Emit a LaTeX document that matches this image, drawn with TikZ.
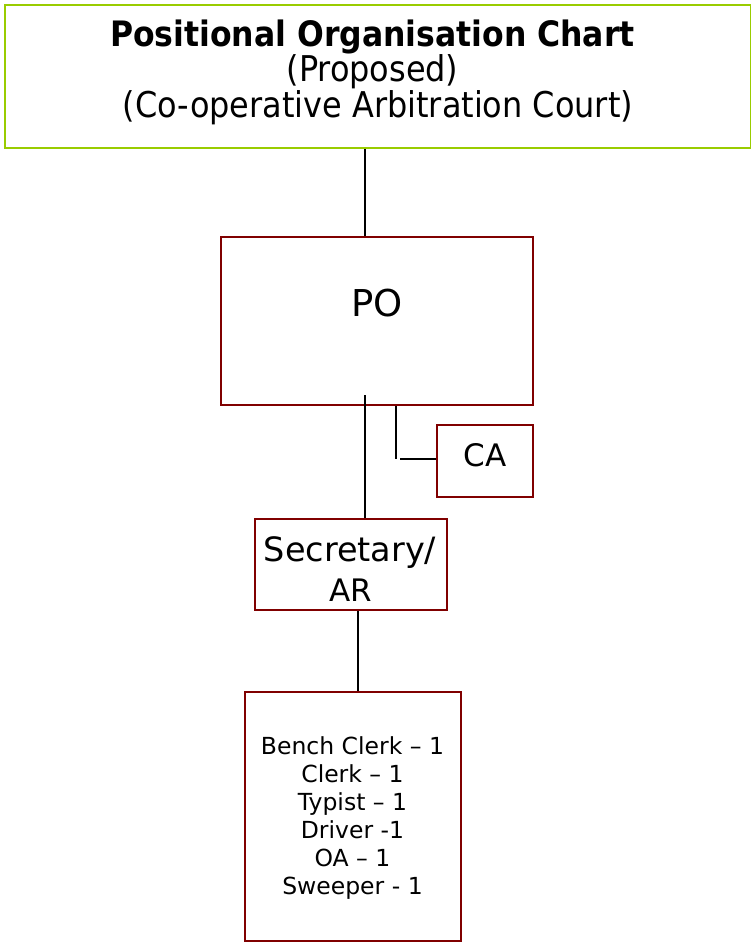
\documentclass[tikz,border=0pt]{standalone}
\usepackage{fontspec}
\setmainfont{DejaVu Sans}
\newfontfamily\condfont{DejaVu Sans Condensed}
\definecolor{boxred}{RGB}{128,0,0}
\definecolor{titlegreen}{RGB}{153,204,0}
\begin{document}
\begin{tikzpicture}[x=1pt,y=-1pt,
  box/.style={draw=boxred,line width=1.6pt,inner sep=0pt,align=center},
  conn/.style={draw=black,line width=1.6pt},
  titletxt/.style={anchor=base,inner sep=0pt,font=\condfont\fontsize{35.5}{36}\selectfont},
  basetxt/.style={anchor=base,inner sep=0pt}]
\useasboundingbox (0,0) rectangle (751,943);
% title
\node[draw=titlegreen,line width=1.6pt,minimum width=746,minimum height=143,inner sep=0pt] (title) at (378,76.5) {};
\node[titletxt,font=\condfont\bfseries\fontsize{35}{36}\selectfont] (titlea) at (372.5,46) {Positional Organisation Chart};
\node[titletxt] (titleb) at (372.5,81.5) {(Proposed)};
\node[titletxt] (titlec) at (378,117) {(Co-operative Arbitration Court)};
% PO
\node[box,minimum width=312,minimum height=168] (po) at (377,321) {};
\node[inner sep=0pt,font=\fontsize{37}{40}\selectfont] (potext) at (377,303) {PO};
% CA
\node[box,minimum width=96,minimum height=72] (ca) at (485,461) {};
\node[inner sep=0pt,font=\fontsize{31}{36}\selectfont] (catext) at (485,455) {CA};
% Secretary
\node[box,minimum width=192,minimum height=91] (sec) at (351,564.5) {};
\node[basetxt,font=\fontsize{33.5}{38}\selectfont] (seca) at (350,561.5) {Secretary/};
\node[basetxt,font=\fontsize{31}{36}\selectfont] (secb) at (350.5,601) {AR};
% Staff
\node[box,minimum width=216,minimum height=249] (staff) at (353,816.5) {};
\node[inner sep=0pt,align=center,font=\fontsize{23.5}{28}\selectfont] (stafftext) at (352.5,818)
  {Bench Clerk – 1\\Clerk – 1\\Typist – 1\\Driver -1\\OA – 1\\Sweeper - 1};
% connectors
\coordinate (poin) at (365,395);
\coordinate (cabend) at (396,459);
\coordinate (caend) at (400,459);
\draw[conn] (title.south -| poin) -- (po.north -| poin);
\draw[conn] (poin) -- (sec.north -| poin);
\draw[conn] (po.south -| cabend) -- (cabend);
\draw[conn] (caend) -- (caend -| ca.west);
\draw[conn] (sec.south -| 358,0) -- (staff.north -| 358,0);
\end{tikzpicture}
\end{document}
